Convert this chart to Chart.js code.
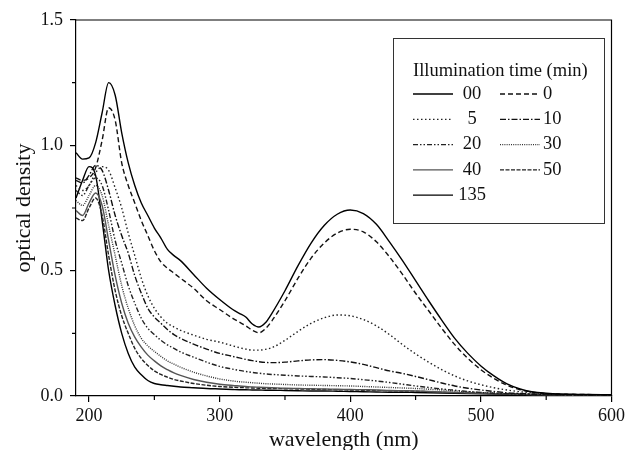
<!DOCTYPE html>
<html>
<head>
<meta charset="utf-8">
<script src="https://cdn.jsdelivr.net/npm/chart.js@4.4.0/dist/chart.umd.min.js"></script>
<style>
  html, body { margin: 0; padding: 0; background: #fff; }
  #wrap { width: 628px; height: 450px; }
</style>
</head>
<body>
<div id="wrap"><canvas id="spectra" width="628" height="450"></canvas></div>
<script>
// wavelengths (nm)
const wavelengths = [190,195,200,205,210,215,220,225,230,235,240,245,250,255,260,265,270,
  280,290,300,310, 315,320,325,330,335,340,
  350,360,370,380,390,400,410,420,430,440,450,460,470,480,490,500,510,520,530,540,550,560,
  580,600];

const seriesLabels = ['00', '0', '5', '10', '20', '30', '40', '50', '135'];

// optical density per illumination time
const od00 = [0.97,0.945,0.95,1.01,1.13,1.25,1.2,1.05,0.93,0.84,0.77,0.72,0.67,0.63,0.585,0.56,0.54,
  0.485,0.43,0.385,0.345, 0.33,0.315,0.287,0.275,0.292,0.33,
  0.42,0.52,0.61,0.68,0.725,0.742,0.728,0.685,0.615,0.54,0.46,0.38,0.303,0.23,0.17,0.12,0.08,0.048,0.028,0.016,0.011,0.008,
  0.006,0.005];
const od0 = [0.87,0.86,0.87,0.91,1.02,1.15,1.1,0.93,0.84,0.77,0.70,0.64,0.58,0.535,0.51,0.49,0.47,
  0.43,0.38,0.345,0.31, 0.295,0.28,0.262,0.252,0.268,0.30,
  0.38,0.47,0.55,0.61,0.65,0.665,0.655,0.615,0.555,0.485,0.41,0.34,0.27,0.205,0.15,0.105,0.07,0.043,0.025,0.015,0.01,0.008,
  0.006,0.005];
const od5 = [0.84,0.82,0.84,0.89,0.915,0.9,0.83,0.75,0.65,0.56,0.47,0.40,0.35,0.315,0.29,0.275,0.262,
  0.243,0.226,0.215,0.2, 0.193,0.187,0.183,0.183,0.186,0.193,
  0.222,0.258,0.29,0.312,0.323,0.32,0.305,0.28,0.245,0.205,0.168,0.135,0.105,0.08,0.06,0.045,0.033,0.024,0.017,0.012,0.009,0.007,
  0.005,0.004];
const od10 = [0.86,0.85,0.88,0.92,0.9,0.82,0.72,0.64,0.57,0.48,0.41,0.35,0.315,0.29,0.265,0.245,0.23,
  0.207,0.187,0.17,0.158, 0.152,0.146,0.141,0.137,0.134,0.133,
  0.135,0.14,0.144,0.145,0.142,0.136,0.126,0.113,0.1,0.09,0.078,0.065,0.052,0.04,0.031,0.024,0.018,0.013,0.01,0.008,0.006,0.005,
  0.004,0.003];
const od20 = [0.82,0.8,0.84,0.87,0.84,0.74,0.62,0.53,0.44,0.37,0.31,0.27,0.245,0.222,0.204,0.19,0.176,
  0.155,0.135,0.118,0.107, 0.102,0.098,0.094,0.091,0.088,0.086,
  0.083,0.08,0.078,0.076,0.073,0.07,0.065,0.06,0.054,0.047,0.04,0.034,0.028,0.023,0.018,0.014,0.011,0.009,0.007,0.006,0.005,0.004,
  0.003,0.003];
const od30 = [0.78,0.76,0.80,0.84,0.80,0.68,0.56,0.44,0.35,0.28,0.23,0.2,0.178,0.158,0.14,0.127,0.115,
  0.095,0.08,0.068,0.06, 0.057,0.055,0.053,0.051,0.049,0.048,
  0.046,0.044,0.043,0.042,0.041,0.04,0.038,0.036,0.034,0.032,0.03,0.027,0.024,0.02,0.017,0.014,0.012,0.01,0.008,0.007,0.006,0.005,
  0.004,0.003];
const od40 = [0.74,0.72,0.77,0.81,0.76,0.62,0.48,0.37,0.29,0.235,0.195,0.163,0.14,0.12,0.105,0.092,0.082,
  0.066,0.055,0.047,0.042, 0.04,0.038,0.036,0.035,0.034,0.033,
  0.031,0.03,0.029,0.028,0.027,0.026,0.025,0.024,0.022,0.021,0.02,0.018,0.016,0.014,0.012,0.011,0.009,0.008,0.007,0.006,0.005,0.004,
  0.003,0.003];
const od50 = [0.71,0.70,0.75,0.79,0.72,0.56,0.42,0.32,0.25,0.19,0.15,0.122,0.1,0.086,0.075,0.066,0.06,
  0.05,0.043,0.038,0.035, 0.034,0.033,0.032,0.031,0.03,0.03,
  0.029,0.028,0.027,0.026,0.025,0.024,0.023,0.022,0.021,0.02,0.019,0.017,0.015,0.014,0.012,0.011,0.009,0.008,0.006,0.005,0.005,0.004,
  0.003,0.003];
const od135 = [0.79,0.86,0.915,0.88,0.7,0.5,0.36,0.25,0.17,0.115,0.085,0.062,0.05,0.045,0.042,0.039,0.036,
  0.033,0.03,0.028,0.026, 0.025,0.025,0.024,0.024,0.023,0.023,
  0.022,0.021,0.02,0.02,0.019,0.018,0.017,0.016,0.015,0.015,0.014,0.013,0.012,0.011,0.01,0.009,0.008,0.007,0.006,0.005,0.004,0.004,
  0.003,0.003];

const xMajorTicks = [200, 300, 400, 500, 600];
const xMinorTicks = [250, 350, 450, 550];
const yMajorTicks = [0, 0.5, 1.0, 1.5];
const yMinorTicks = [0.25, 0.75, 1.25];

const serif = '"Liberation Serif", "DejaVu Serif", serif';

const allSeries = [od00, od0, od5, od10, od20, od30, od40, od50, od135];
const dashes = [[], [5, 3], [1.5, 2.5], [6, 2, 1.5, 2], [5, 2, 1.5, 2, 1.5, 2], [1, 1.2], [], [4, 1.5], []];
const colors = ['#000', '#111', '#222', '#111', '#222', '#333', '#555', '#222', '#000'];

const datasets = allSeries.map((vals, i) => ({
    label: seriesLabels[i],
    data: vals.map((v, k) => ({ x: wavelengths[k], y: v })),
    borderColor: colors[i],
    borderDash: dashes[i],
    borderWidth: 1.4,
    pointRadius: 0,
    fill: false,
    cubicInterpolationMode: 'monotone'
}));

// frame, minor ticks and the boxed legend
const extrasPlugin = {
    id: 'extras',
    afterDraw(chart) {
        const ctx = chart.ctx;
        const area = chart.chartArea;
        const xs = chart.scales.x;
        const ys = chart.scales.y;
        ctx.save();
        ctx.strokeStyle = '#000';
        ctx.lineWidth = 1.2;
        ctx.beginPath();
        ctx.moveTo(area.left, area.top);
        ctx.lineTo(area.right, area.top);
        ctx.lineTo(area.right, area.bottom);
        ctx.stroke();

        ctx.beginPath();
        xMinorTicks.forEach(v => {
            const px = xs.getPixelForValue(v);
            ctx.moveTo(px, area.bottom);
            ctx.lineTo(px, area.bottom + 4);
        });
        yMinorTicks.forEach(v => {
            const py = ys.getPixelForValue(v);
            ctx.moveTo(area.left, py);
            ctx.lineTo(area.left - 4, py);
        });
        ctx.stroke();

        // legend
        ctx.fillStyle = '#fff';
        ctx.fillRect(393, 38, 211, 185);
        ctx.strokeStyle = '#333';
        ctx.lineWidth = 1;
        ctx.strokeRect(393.5, 38.5, 211, 185);

        ctx.fillStyle = '#111';
        ctx.font = '18.5px ' + serif;
        ctx.textBaseline = 'middle';
        ctx.textAlign = 'left';
        ctx.fillText('Illumination time (min)', 413, 71);

        chart.data.datasets.forEach((ds, i) => {
            const col = i % 2;
            const row = Math.floor(i / 2);
            const y = 94 + row * 25.3;
            const x0 = col === 0 ? 413 : 500;
            ctx.strokeStyle = ds.borderColor;
            ctx.lineWidth = 1.3;
            ctx.setLineDash(ds.borderDash);
            ctx.beginPath();
            ctx.moveTo(x0, y);
            ctx.lineTo(x0 + 40, y);
            ctx.stroke();
            ctx.setLineDash([]);
            if (col === 0) {
                ctx.textAlign = 'center';
                ctx.fillText(ds.label, 472, y);
            } else {
                ctx.textAlign = 'left';
                ctx.fillText(ds.label, 543, y);
            }
        });
        ctx.restore();
    }
};

new Chart(document.getElementById('spectra'), {
    type: 'line',
    data: { datasets: datasets },
    options: {
        responsive: false,
        animation: false,
        layout: { padding: { left: 0, right: 16, top: 20, bottom: 0 } },
        plugins: {
            legend: { display: false },
            tooltip: { enabled: false }
        },
        scales: {
            x: {
                type: 'linear',
                min: 190,
                max: 600,
                afterBuildTicks: axis => { axis.ticks = xMajorTicks.map(v => ({ value: v })); },
                afterFit: axis => { axis.height = 54; },
                grid: { drawOnChartArea: false, tickLength: 6, color: '#000', lineWidth: 1.2 },
                border: { color: '#000', width: 1.2 },
                ticks: { color: '#111', padding: 3, maxRotation: 0, font: { family: serif, size: 18 } },
                title: {
                    display: true,
                    text: 'wavelength (nm)',
                    color: '#111',
                    font: { family: serif, size: 22 },
                    padding: { top: 0, bottom: -3 }
                }
            },
            y: {
                min: 0,
                max: 1.5,
                afterBuildTicks: axis => { axis.ticks = yMajorTicks.map(v => ({ value: v })); },
                afterFit: axis => { axis.width = 76; },
                grid: { drawOnChartArea: false, tickLength: 6, color: '#000', lineWidth: 1.2 },
                border: { color: '#000', width: 1.2 },
                ticks: { color: '#111', padding: 7, font: { family: serif, size: 18 },
                    callback: v => v.toFixed(1) },
                title: {
                    display: true,
                    text: 'optical density',
                    color: '#111',
                    font: { family: serif, size: 22 },
                    padding: { top: 11, bottom: 0 }
                }
            }
        }
    },
    plugins: [extrasPlugin]
});
</script>
</body>
</html>
